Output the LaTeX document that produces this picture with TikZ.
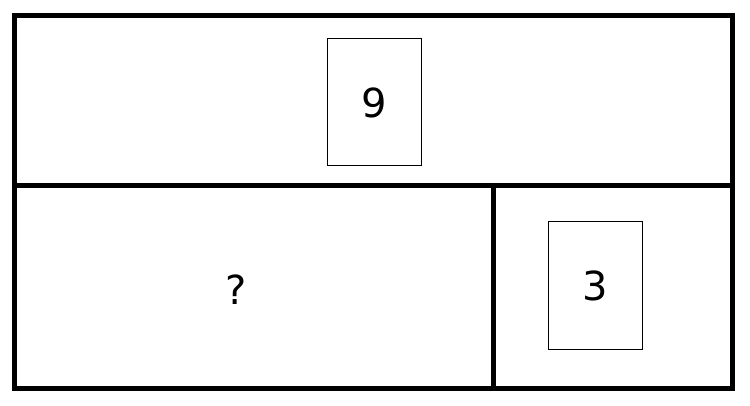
\documentclass[tikz,border=0pt]{standalone}
\usepackage{fontspec}
\setmainfont{DejaVu Sans}
\usepackage{xcolor}

\begin{document}
\begin{tikzpicture}[x=1pt,y=-1pt,
    wall/.style={line width=5pt},
    card/.style={draw, line width=1pt, minimum width=94pt, minimum height=127pt, inner sep=0pt, font=\fontsize{40}{48}\selectfont}]

	    \useasboundingbox (0,0) rectangle (750,406);

	    \draw[wall] (14.5,16) rectangle (732.5,388);
	    \draw[wall] (14.5,186) -- (732.5,186);
	    \draw[wall] (493.5,186) -- (493.5,388);

	    \node[card] (whole) at (374,102.5) {9};
	    \node[card] (part) at (595.5,285.5) {3};
	    \node[font=\fontsize{40}{48}\selectfont, inner sep=0pt] (unknown) at (236.5,290) {?};

	\end{tikzpicture}
\end{document}
